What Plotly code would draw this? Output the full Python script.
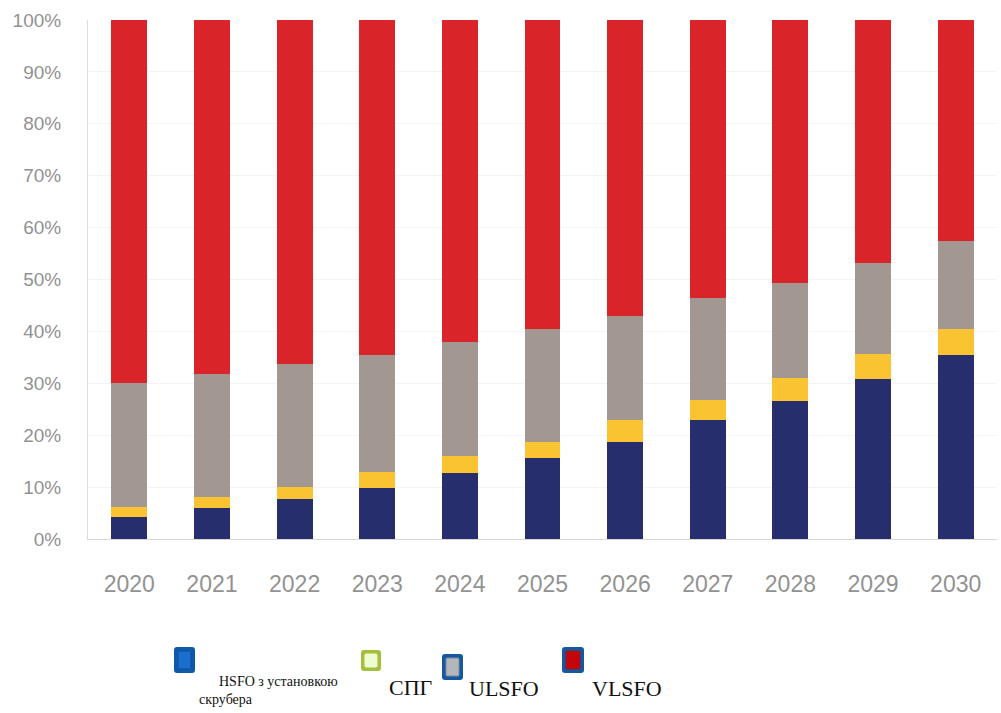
import plotly.graph_objects as go

# Fuel mix shares, % of total (stacked bottom to top)
years = ["2020", "2021", "2022", "2023", "2024", "2025", "2026", "2027", "2028", "2029", "2030"]
hsfo_scrubber = [4.3, 5.9, 7.8, 9.8, 12.8, 15.7, 18.7, 22.9, 26.5, 30.8, 35.5]
lng = [1.8, 2.1, 2.3, 3.2, 3.1, 2.9, 4.2, 3.9, 4.5, 4.8, 5.0]
ulsfo = [23.9, 23.7, 23.6, 22.5, 22.0, 21.8, 20.1, 19.6, 18.3, 17.6, 16.9]
vlsfo = [70.0, 68.3, 66.3, 64.5, 62.1, 59.6, 57.0, 53.6, 50.7, 46.8, 42.6]

y_ticks = [0, 10, 20, 30, 40, 50, 60, 70, 80, 90, 100]
y_tick_text = [f"{v}%" for v in y_ticks]

series = [
    ("HSFO з установкою скрубера", hsfo_scrubber, "#272e6e"),
    ("СПГ", lng, "#f9c331"),
    ("ULSFO", ulsfo, "#a39891"),
    ("VLSFO", vlsfo, "#d9252a"),
]

W, H = 1001, 713
M_L, M_R, M_T, M_B = 88, 4, 20, 174

fig = go.Figure()
for name, vals, color in series:
    fig.add_trace(go.Bar(x=years, y=vals, name=name, marker=dict(color=color, line=dict(width=0)),
                         showlegend=False))

fig.update_layout(
    width=W, height=H,
    margin=dict(l=M_L, r=M_R, t=M_T, b=M_B),
    barmode="stack", bargap=0.565,
    plot_bgcolor="white", paper_bgcolor="white",
    xaxis=dict(showgrid=False, showline=True, linecolor="#d8d8d8", linewidth=1,
               ticks="", ticklabelstandoff=24,
               tickfont=dict(family="Liberation Sans", size=23, color="#929292")),
    yaxis=dict(range=[0, 100], tickvals=y_ticks, ticktext=y_tick_text,
               showgrid=True, gridcolor="#f3f3f3", gridwidth=1,
               showline=True, linecolor="#dcdcdc", linewidth=1,
               zeroline=False, ticks="", ticklabelstandoff=22,
               tickfont=dict(family="Liberation Sans", size=19, color="#929292")),
)

# --- custom legend below the chart (pixel positions converted to paper) ---
pw = W - M_L - M_R
ph = H - M_T - M_B


def px(x):
    return (x - M_L) / pw


def py(y):
    return (H - M_B - y) / ph


def rounded_path(x0, y0, x1, y1, r):
    # rounded rectangle from pixel corners (y0 = top) to a paper-space path
    X0, X1 = px(x0), px(x1)
    Y0, Y1 = py(y0), py(y1)
    rx = r / pw
    ry = r / ph
    return (f"M {X0+rx},{Y0} L {X1-rx},{Y0} Q {X1},{Y0} {X1},{Y0-ry} "
            f"L {X1},{Y1+ry} Q {X1},{Y1} {X1-rx},{Y1} "
            f"L {X0+rx},{Y1} Q {X0},{Y1} {X0},{Y1+ry} "
            f"L {X0},{Y0-ry} Q {X0},{Y0} {X0+rx},{Y0} Z")


icons = [
    # (x0, y0, x1, y1, outer, inner fill, inner border)
    (174, 647, 195, 673, "#0f5aa8", "#1b6fcc", "#0e4f96"),
    (361, 650, 381, 671, "#a3bf3c", "#effcd2", "#effcd2"),
    (442, 654, 463, 680, "#15589f", "#b3b6ba", "#7d8a99"),
    (562, 647, 584, 673, "#15589f", "#c4060c", "#8b1a2a"),
]
shapes = []
for x0, y0, x1, y1, outer, inner, inner_line in icons:
    shapes.append(dict(type="path", xref="paper", yref="paper",
                       path=rounded_path(x0, y0, x1, y1, 3),
                       fillcolor=outer, line=dict(width=0), layer="above"))
    shapes.append(dict(type="path", xref="paper", yref="paper",
                       path=rounded_path(x0 + 4, y0 + 4, x1 - 4, y1 - 4, 1),
                       fillcolor=inner, line=dict(color=inner_line, width=1), layer="above"))
fig.update_layout(shapes=shapes)

labels = [
    (217, 681, "HSFO з установкою", 14, "left"),
    (197, 699, "скрубера", 14, "left"),
    (387, 687, "СПГ", 22, "left"),
    (467, 688, "ULSFO", 22, "left"),
    (590, 688, "VLSFO", 22, "left"),
]
for x, y, text, size, anchor in labels:
    fig.add_annotation(x=px(x), y=py(y), xref="paper", yref="paper", text=text,
                       showarrow=False, xanchor=anchor, yanchor="middle",
                       font=dict(family="Liberation Serif", size=size, color="#111111"))

fig.write_html("out.html")
